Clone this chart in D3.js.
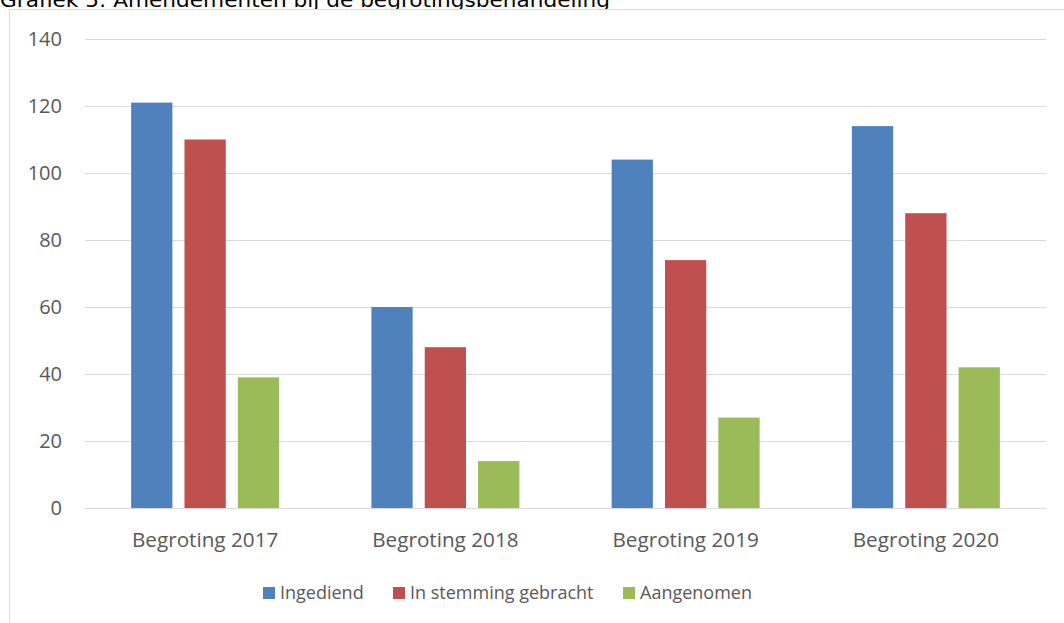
<!DOCTYPE html>
<html><head><meta charset="utf-8">
<script src="https://cdn.jsdelivr.net/npm/d3@7"></script>
<style>body{margin:0;background:#fff}svg{display:block}text{font-family:"Open Sans",sans-serif;fill:#595959}</style>
</head><body><svg id="c" width="1064" height="623"></svg>
<script>
const title = "Grafiek 5: Amendementen bij de begrotingsbehandeling";
const categories = ["Begroting 2017","Begroting 2018","Begroting 2019","Begroting 2020"];
const seriesNames = ["Ingediend","In stemming gebracht","Aangenomen"];
const ingediend = [121,60,104,114];
const inStemming = [110,48,74,88];
const aangenomen = [39,14,27,42];
const yTicks = [0,20,40,60,80,100,120,140];
const colors = ["#4f81bd","#c0504d","#9bbb59"];
const seriesValues = [ingediend, inStemming, aangenomen];

const svg = d3.select("#c");
// title (partially cut off at the top edge, as in the source)
svg.append("text").attr("x",0).attr("y",7).attr("font-size",19)
  .style("font-family","'DejaVu Sans',Verdana,sans-serif").style("fill","#000").text(title)
  .attr("textLength",610).attr("lengthAdjust","spacingAndGlyphs");
// frame
svg.append("rect").attr("x",9.5).attr("y",9.5).attr("width",1060).attr("height",620)
  .attr("fill","#fff").attr("stroke","#d9d9d9").attr("stroke-width",1);

const plotL=85, plotR=1046, plotT=39, plotB=508;
const y = d3.scaleLinear().domain([0,140]).range([plotB,plotT]);
const x0 = d3.scaleBand().domain(categories).range([plotL,plotR]).paddingInner(0).paddingOuter(0);
const innerW = 148;
const x1 = d3.scaleBand().domain(seriesNames).range([0,innerW]).paddingInner(0.2264);

// gridlines
svg.append("g").selectAll("line").data(yTicks).join("line")
  .attr("x1",plotL).attr("x2",plotR).attr("y1",d=>Math.round(y(d))+0.5).attr("y2",d=>Math.round(y(d))+0.5)
  .attr("stroke","#d9d9d9").attr("stroke-width",1);

const yAxis = d3.axisLeft(y).tickValues(yTicks).tickSize(0).tickPadding(0);
const ya = svg.append("g").attr("transform",`translate(62,0)`).call(yAxis);
ya.select(".domain").remove();
ya.selectAll("text").attr("font-size",20).style("fill","#595959").style("font-family","Open Sans");

// bars
const groups = svg.append("g").selectAll("g").data(categories).join("g")
  .attr("transform",c=>`translate(${x0(c)+(x0.bandwidth()-innerW)/2},0)`);
groups.selectAll("rect").data((c,i)=>seriesNames.map((s,j)=>({s,j,v:seriesValues[j][i]}))).join("rect")
  .attr("x",d=>x1(d.s)).attr("width",x1.bandwidth())
  .attr("y",d=>y(d.v)).attr("height",d=>y(0)-y(d.v)).attr("fill",d=>colors[d.j]);

// x axis
const xAxis = d3.axisBottom(x0).tickSize(0).tickPadding(0);
const xa = svg.append("g").attr("transform",`translate(0,0)`).call(xAxis);
xa.select(".domain").remove();
xa.selectAll("text").attr("font-size",20.7).attr("y",547).attr("dy",null)
  .style("fill","#595959").style("font-family","Open Sans");

// legend
const legX = [263,393,623];
const leg = svg.append("g").selectAll("g").data(seriesNames).join("g")
  .attr("transform",(d,i)=>`translate(${legX[i]},587)`);
leg.append("rect").attr("width",12).attr("height",12).attr("fill",(d,i)=>colors[i]);
leg.append("text").attr("x",17).attr("y",6).attr("dy","0.35em").attr("font-size",18).text(d=>d);
</script></body></html>
